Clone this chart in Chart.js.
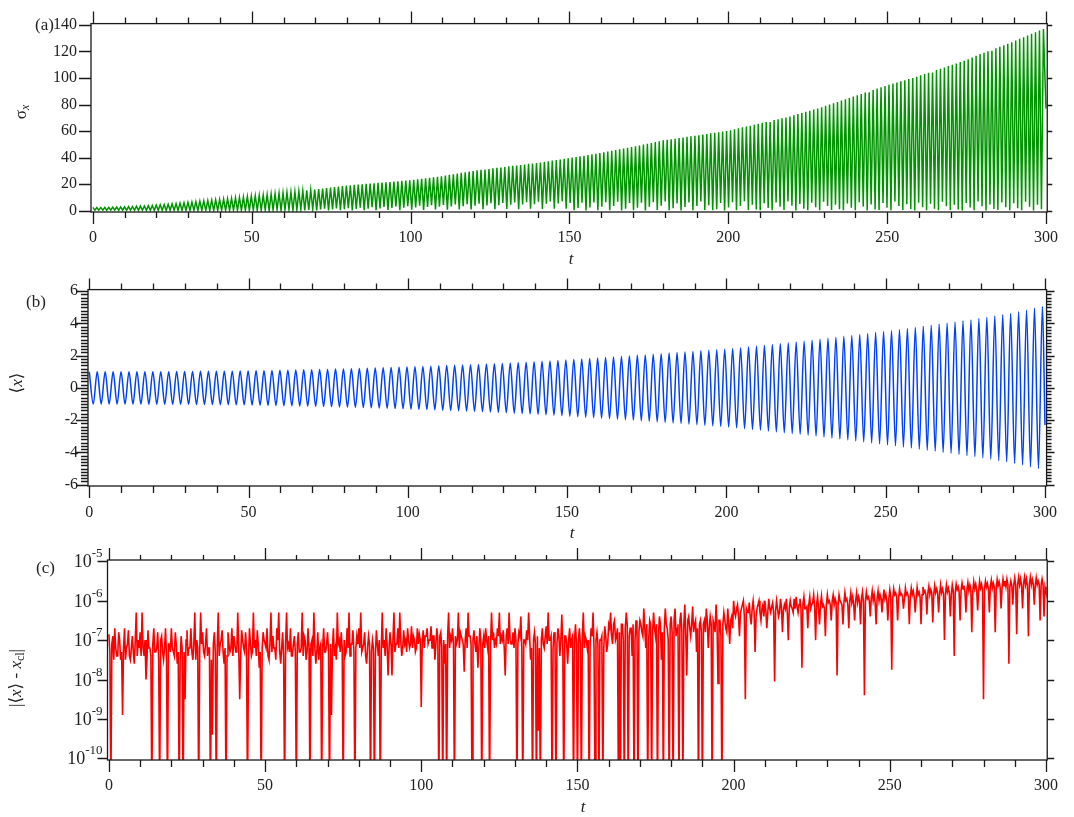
<!DOCTYPE html>
<html lang="en">
<head>
<meta charset="UTF-8" />
<title>σx, ⟨x⟩ and |⟨x⟩ - xcl| versus t</title>
<script src="https://cdn.jsdelivr.net/npm/chart.js"></script>
<style>
  html, body { margin: 0; padding: 0; background: #fff; }
  body { width: 1074px; height: 817px; position: relative; overflow: hidden;
         font-family: "Liberation Serif", "DejaVu Serif", serif; color: #222; }
  canvas { position: absolute; left: 0; }
  .lbl { position: absolute; font-size: 17px; line-height: 1; white-space: nowrap; transform: translateY(-50%); }
  .panel { background: #fff; }
  .rot { transform: translate(-50%, -50%) rotate(-90deg); }
  .xt { transform: translate(-50%, -50%); font-style: italic; }
  sub { font-size: 12px; vertical-align: -3px; }
</style>
</head>
<body>

<canvas id="chartA" width="1074" height="270" style="top:0"></canvas>
<canvas id="chartB" width="1074" height="275" style="top:270px"></canvas>
<canvas id="chartC" width="1074" height="272" style="top:545px"></canvas>

<!-- panel letters and axis titles -->
<div class="lbl panel" style="left:35px; top:24px">(a)</div>
<div class="lbl panel" style="left:26px; top:301px">(b)</div>
<div class="lbl panel" style="left:36px; top:567px">(c)</div>

<div class="lbl rot" style="left:21px; top:112px">σ<sub><i>x</i></sub></div>
<div class="lbl rot" style="left:16px; top:383px">⟨<i>x</i>⟩</div>
<div class="lbl rot" style="left:16px; top:678px">|⟨<i>x</i>⟩ - <i>x</i><sub>cl</sub>|</div>

<div class="lbl xt" style="left:571px; top:258px">t</div>
<div class="lbl xt" style="left:572px; top:532px">t</div>
<div class="lbl xt" style="left:583px; top:806px">t</div>

<script>
// ---- data ----
const tTicks = [0, 50, 100, 150, 200, 250, 300];
const tEnd = 300;
const tLastPeak = 299.2;   // last maximum of <x> and sigma_x

// (a) sigma_x: maxima (one per half period of <x>) and the minima between them
const sigmaPeaks = [
  2.5,2.4,2.5,2.6,2.6,2.7,2.8,2.9, 3.0,3.1,3.2,3.4,3.5,3.6,3.8,3.9,
  4.3,4.5,4.7,4.9,5.2,5.4,5.7,6.0, 6.3,6.6,6.9,7.2,7.4,7.7,8.0,8.2,
  8.5,8.8,9.1,9.4,9.7,10.0,10.3,10.7, 11.0,11.3,11.6,11.9,12.2,12.6,12.9,13.2,
  13.5,13.8,14.1,14.4,14.7,15.0,15.4,15.7, 16.0,16.4,16.7,17.1,17.5,17.9,18.3,18.6,
  19.0,19.2,19.5,19.7,20.0,20.2,20.5,20.7, 21.0,21.2,21.5,21.7,22.0,22.2,22.5,22.7,
  23.0,23.4,23.7,24.1,24.5,24.9,25.2,25.6, 26.0,26.5,27.0,27.5,28.0,28.5,29.0,29.5,
  30.0,30.4,30.8,31.1,31.5,31.9,32.3,32.6, 33.0,33.4,33.8,34.1,34.5,34.9,35.3,35.6,
  36.0,36.4,36.9,37.3,37.8,38.2,38.6,39.1, 39.5,40.0,40.5,41.0,41.5,42.0,42.5,43.0,
  43.5,44.0,44.6,45.2,45.8,46.3,46.9,47.4, 48.0,48.6,49.2,49.9,50.5,51.1,51.8,52.4,
  53.0,53.4,53.9,54.3,54.8,55.2,55.7,56.1, 56.5,56.9,57.4,57.8,58.3,58.7,59.1,59.6,
  60.0,60.7,61.4,62.1,62.8,63.4,64.1,64.8, 65.5,66.2,66.9,66.8,68.3,68.9,69.6,70.3,
  71.0,71.9,72.8,73.6,74.5,75.4,76.3,77.1, 78,79,80,81,82,83,84,85,
  86,87,88,89,89.2,91,92,93, 94,95,95.8,96.6,97.5,98.4,99.2,100,
  101,102,103,104,104.2,106,107,108, 109,110,111,112,113,114.2,115.5,116.8,
  118,119.1,120.2,120.5,122.5,123.6,124.7,125.8, 127,128.2,129.5,130.8,132,133.3,134.5,135.8,
  137
];
const sigmaTroughs = [
  0.4,0.4,0.4,0.3,0.4,0.4,0.3,0.4, 0.3,0.4,0.3,0.3,0.4,0.3,0.3,0.3,
  0.3,0.3,0.2,0.3,0.3,0.2,0.3,0.2, 0.2,0.3,0.2,0.2,0.3,0.2,0.2,0.2,
  0.3,0.2,0.2,0.4,0.2,0.2,0.3,0.2, 0.5,0.2,0.3,0.6,0.2,0.4,0.8,0.2,
  0.6,0.9,0.2,0.5,1.1,0.3,0.7,1.3, 0.2,0.9,1.5,0.3,1.0,1.8,0.4,1.2,
  2.0,0.3,1.4,2.3,0.5,1.6,2.6,0.4, 1.8,2.9,0.6,2.1,3.2,0.5,2.3,3.5,
  0.7,2.5,3.8,0.6,2.8,4.1,0.9,3.0, 4.4,0.8,3.2,4.7,1.0,3.5,5.0,0.9,
  3.7,5.3,1.2,4.0,5.6,1.1,4.2,5.9, 1.3,4.5,6.2,1.2,4.8,6.5,1.5,5.0,
  6.8,1.4,5.3,7.0,1.6,5.5,7.2,1.5, 5.8,0.3,2.0,6.0,0.2,2.5,6.3,0.3,
  3.0,6.5,0.4,3.5,6.8,0.2,1.5,5.8, 0.3,2.2,6.0,0.2,3.0,6.4,0.5,3.8,
  7.0,0.4,1.8,5.5,0.2,2.8,6.2,0.3, 3.5,7.0,0.6,4.2,0.3,1.2,5.8,0.2,
  2.5,6.5,0.3,3.6,7.2,0.5,4.5,1.0, 0.4,5.6,2.0,0.3,6.3,3.0,0.6,7.0,
  3.8,0.2,5.0,1.5,0.4,6.0,2.6,0.3, 6.8,3.5,0.5,4.6,1.2,0.3,5.5,2.2,
  0.4,6.4,3.2,0.2,4.8,1.0,0.6,5.9, 2.3,0.3,7.0,3.6,0.5,4.9,1.4,0.2,
  6.1,2.7,0.4,5.2,1.6,0.3,6.7,3.3, 0.5,4.5,0.9,0.2,5.8,2.4,0.3,6.9,
  3.4,0.2,4.8,1.3,0.5,6.2,2.6,0.3, 5.6,1.8,0.4,6.8,3.0,0.2,4.6,1.2
];
const sigmaEnd = 77;        // value at t = 300
const sigmaTicks = [0, 20, 40, 60, 80, 100, 120, 140];

// (b) <x>: maxima and minima of the oscillation
const meanPeaks = [
  1.00,1.00,1.00,1.00, 1.00,1.00,1.00,1.01, 1.01,1.01,1.01,1.02, 1.02,1.02,1.03,1.03,
  1.03,1.04,1.04,1.05, 1.05,1.06,1.07,1.08, 1.09,1.10,1.11,1.12, 1.13,1.14,1.15,1.17,
  1.18,1.19,1.21,1.22, 1.24,1.25,1.27,1.28, 1.30,1.32,1.33,1.35, 1.37,1.39,1.40,1.42,
  1.44,1.46,1.48,1.50, 1.52,1.55,1.58,1.60, 1.62,1.65,1.67,1.70, 1.74,1.77,1.80,1.83,
  1.86,1.89,1.92,1.95, 1.98,2.02,2.05,2.09, 2.12,2.16,2.19,2.23, 2.26,2.30,2.34,2.37,
  2.40,2.45,2.50,2.55, 2.60,2.65,2.70,2.75, 2.80,2.85,2.90,2.96, 3.02,3.08,3.14,3.20,
  3.26,3.32,3.38,3.44, 3.50,3.56,3.62,3.69, 3.76,3.83,3.89,3.95, 4.02,4.08,4.15,4.22,
  4.30,4.38,4.46,4.54, 4.62,4.72,4.83,4.95, 5.05
];
const meanTroughs = [
  -1.00,-1.00,-1.00,-1.00, -1.00,-1.00,-1.00,-1.01, -1.01,-1.01,-1.02,-1.02, -1.02,-1.03,-1.03,-1.03,
  -1.04,-1.04,-1.05,-1.05, -1.06,-1.07,-1.08,-1.09, -1.10,-1.11,-1.12,-1.13, -1.14,-1.15,-1.16,-1.18,
  -1.19,-1.20,-1.22,-1.23, -1.25,-1.26,-1.28,-1.29, -1.31,-1.33,-1.34,-1.36, -1.38,-1.40,-1.41,-1.43,
  -1.45,-1.47,-1.49,-1.51, -1.54,-1.57,-1.59,-1.61, -1.64,-1.66,-1.69,-1.72, -1.76,-1.79,-1.82,-1.85,
  -1.88,-1.91,-1.94,-1.97, -2.00,-2.04,-2.07,-2.11, -2.14,-2.18,-2.21,-2.25, -2.28,-2.32,-2.36,-2.39,
  -2.43,-2.48,-2.53,-2.58, -2.63,-2.68,-2.73,-2.78, -2.83,-2.88,-2.93,-2.99, -3.05,-3.11,-3.17,-3.23,
  -3.29,-3.35,-3.41,-3.47, -3.53,-3.59,-3.66,-3.73, -3.80,-3.86,-3.92,-3.99, -4.05,-4.12,-4.19,-4.26,
  -4.34,-4.42,-4.50,-4.58, -4.67,-4.77,-4.89,-5.00
];
const meanEnd = -2.3;
const meanTicks = [-6, -4, -2, 0, 2, 4, 6];

// (c) log10 |<x> - x_cl| at t = 0, 0.625, ... (-11 = below the axis floor)
const errLog = [
  -6.85,-11,-6.9,-6.7,-7.4,-6.8,-7.5,-8.9,-6.7,-7.2,-6.75,-7.5,-6.9,-7.6,-6.3,-7.0,
  -6.8,-6.3,-7.4,-8.0,-6.75,-7.2,-11,-6.7,-7.3,-6.8,-11,-6.9,-7.5,-6.7,-11,-7.1,
  -6.7,-7.3,-6.8,-7.6,-11,-6.9,-11,-8.5,-6.75,-7.2,-6.7,-7.5,-6.3,-7.0,-11,-6.3,
  -6.8,-7.4,-6.7,-7.2,-11,-9.4,-6.8,-11,-6.3,-7.1,-6.75,-7.6,-11,-6.8,-7.3,-6.7,
  -6.9,-7.3,-6.3,-8.5,-6.75,-7.2,-6.8,-11,-6.7,-7.4,-6.3,-7.0,-6.75,-7.7,-11,-6.8,
  -7.1,-6.7,-7.5,-6.3,-6.9,-7.2,-6.7,-6.3,-7.6,-6.8,-11,-6.3,-7.1,-6.7,-7.4,-6.9,
  -11,-6.8,-7.3,-6.3,-6.9,-7.5,-6.7,-11,-7.0,-6.3,-7.6,-6.8,-7.2,-11,-6.7,-7.3,
  -6.8,-11,-8.9,-6.7,-7.2,-6.3,-7.0,-6.8,-11,-7.4,-6.7,-6.3,-7.1,-6.75,-11,-6.9,
  -6.7,-6.3,-7.2,-6.8,-7.6,-6.9,-11,-7.0,-11,-6.75,-7.4,-11,-6.3,-7.0,-6.7,-7.9,
  -6.8,-7.9,-6.3,-7.1,-6.7,-6.3,-7.4,-6.75,-7.0,-6.7,-7.2,-6.65,-6.9,-7.3,-6.7,-6.85,
  -8.7,-6.75,-6.9,-6.7,-7.0,-6.65,-6.9,-7.5,-6.7,-11,-6.8,-11,-7.6,-11,-6.3,-6.9,
  -6.7,-11,-7.1,-6.3,-6.8,-7.0,-7.8,-6.7,-6.3,-6.9,-11,-6.75,-7.3,-7.7,-6.7,-11,
  -6.9,-6.7,-7.2,-11,-6.3,-6.8,-7.0,-6.7,-6.3,-6.9,-6.75,-7.9,-6.7,-6.3,-7.1,-6.8,
  -6.7,-11,-6.8,-6.4,-11,-7.0,-6.75,-6.3,-7.5,-11,-6.8,-11,-9.3,-11,-6.7,-7.2,
  -6.65,-6.3,-7.0,-11,-6.8,-11,-6.7,-7.4,-6.35,-11,-6.9,-7.6,-6.7,-7.0,-11,-6.6,
  -11,-6.7,-11,-6.3,-6.9,-7.2,-11,-6.7,-6.3,-11,-6.8,-11,-7.0,-11,-6.65,-7.3,
  -6.6,-6.3,-7.1,-6.5,-6.9,-11,-11,-6.6,-11,-6.3,-11,-6.7,-7.4,-11,-6.5,-11,
  -6.5,-6.8,-6.2,-7.2,-11,-6.5,-11,-6.3,-6.9,-11,-6.4,-7.5,-11,-6.2,-6.7,-11,
  -6.4,-11,-6.2,-6.7,-11,-6.3,-11,-6.1,-7.9,-6.4,-6.9,-6.15,-6.6,-7.3,-11,-6.5,
  -11,-6.5,-6.2,-7.2,-6.4,-11,-6.6,-6.1,-8.1,-6.5,-11,-6.3,-6.7,-6.2,-7.1,-6.4,
  -6.0,-6.4,-6.1,-6.9,-6.2,-6.0,-8.5,-6.3,-6.05,-6.6,-6.0,-7.3,-6.2,-6.0,-6.5,-6.1,
  -6.0,-6.7,-5.95,-6.3,-6.05,-8.05,-6.0,-6.4,-5.95,-6.8,-6.1,-5.95,-7.0,-6.0,-6.2,-5.95,
  -5.9,-6.3,-5.95,-7.7,-5.9,-6.2,-6.7,-5.9,-6.1,-5.85,-7.0,-5.9,-6.6,-5.88,-6.1,-6.9,
  -5.85,-6.0,-6.5,-5.85,-5.95,-7.9,-5.85,-6.0,-6.6,-5.8,-5.95,-6.7,-5.8,-5.9,-6.5,-5.8,
  -5.9,-6.6,-5.78,-8.4,-5.78,-5.9,-6.4,-5.75,-5.85,-6.6,-5.75,-5.85,-6.3,-5.72,-5.85,-6.5,
  -5.72,-7.75,-5.7,-5.8,-6.5,-5.7,-5.82,-6.2,-5.68,-5.8,-6.6,-5.68,-5.75,-6.3,-5.66,-5.78,
  -6.6,-5.65,-5.75,-6.35,-5.63,-5.72,-6.55,-5.62,-5.7,-6.3,-5.6,-5.7,-7.0,-5.6,-5.68,-6.4,
  -5.6,-7.4,-5.58,-5.65,-6.5,-5.55,-5.62,-6.3,-5.54,-5.6,-6.8,-5.52,-5.58,-6.25,-5.5,-5.58,
  -8.5,-5.5,-5.56,-6.3,-5.48,-5.55,-6.8,-5.46,-5.52,-6.2,-5.45,-5.5,-5.45,-7.6,-5.5,-6.1,
  -5.42,-6.85,-5.4,-5.45,-6.2,-5.4,-5.45,-6.9,-5.4,-5.46,-6.1,-5.42,-5.5,-6.5,-5.45,-6.4,
  -5.77
];
// (c) the samples half way between those above
const errLogMid = [
  -7.3,-7.1,-7.5,-7.2,-7.4,-7.0,-7.3,-7.2,-7.5,-7.1,-7.4,-7.2,-7.3,-7.0,-7.4,-7.2,
  -7.4,-7.2,-7.0,-7.5,-7.2,-7.4,-7.1,-7.3,-7.2,-7.5,-7.0,-7.3,-7.2,-7.4,-7.1,-7.3,
  -7.2,-7.4,-7.1,-7.3,-7.5,-7.2,-7.3,-7.0,-7.4,-7.2,-7.3,-7.1,-7.5,-7.2,-7.3,-7.1,
  -7.3,-7.1,-7.4,-7.2,-7.5,-7.1,-7.3,-7.2,-7.4,-7.0,-7.3,-7.2,-7.4,-7.1,-7.2,-7.4,
  -7.1,-7.3,-7.2,-7.4,-7.0,-7.3,-7.2,-7.5,-7.1,-7.3,-7.2,-7.4,-7.1,-7.3,-7.2,-7.0,
  -7.2,-7.4,-7.1,-7.3,-7.2,-7.5,-7.0,-7.3,-7.2,-7.4,-7.1,-7.2,-7.3,-7.4,-7.1,-7.3,
  -7.1,-7.3,-7.2,-7.4,-7.0,-7.3,-7.2,-7.1,-7.4,-7.2,-7.3,-7.5,-7.1,-7.2,-7.3,-7.1,
  -7.3,-7.1,-7.2,-7.4,-7.5,-7.1,-7.3,-7.2,-7.0,-7.3,-7.2,-7.4,-7.1,-7.3,-7.2,-7.1,
  -7.2,-7.3,-7.1,-7.4,-7.2,-7.1,-7.3,-7.2,-7.4,-7.1,-7.0,-7.3,-7.2,-7.4,-7.1,-7.2,
  -7.1,-7.0,-7.3,-7.1,-7.2,-7.0,-7.2,-7.1,-7.3,-7.0,-7.1,-7.2,-7.0,-7.2,-7.1,-7.0,
  -7.0,-7.2,-6.9,-7.1,-7.0,-7.2,-6.9,-7.1,-7.0,-6.9,-7.2,-7.0,-7.1,-6.9,-7.2,-7.0,
  -7.1,-6.9,-7.0,-7.2,-6.9,-7.1,-7.0,-7.2,-6.9,-7.1,-7.0,-7.1,-6.9,-7.2,-7.0,-7.1,
  -7.2,-7.0,-6.9,-7.1,-7.0,-7.2,-7.1,-6.9,-7.1,-7.0,-7.2,-6.9,-7.1,-7.0,-7.1,-7.2,
  -7.0,-7.1,-6.9,-7.2,-7.0,-7.1,-7.0,-6.9,-7.2,-7.0,-7.1,-6.9,-7.2,-7.0,-7.1,-6.9,
  -7.1,-7.0,-6.9,-7.2,-7.0,-7.1,-6.9,-7.0,-7.2,-6.9,-7.1,-7.0,-7.2,-6.9,-7.0,-7.1,
  -7.0,-7.1,-6.9,-7.2,-7.0,-7.0,-7.1,-6.9,-7.2,-7.0,-7.1,-7.0,-6.9,-7.2,-6.9,-7.1,
  -6.7,-6.9,-6.6,-7.0,-6.7,-6.8,-6.6,-7.0,-6.7,-6.6,-6.9,-6.7,-6.6,-7.0,-6.7,-6.8,
  -6.6,-6.9,-6.7,-6.6,-7.0,-6.6,-6.8,-6.7,-6.6,-6.9,-6.6,-6.8,-6.7,-6.6,-7.0,-6.6,
  -6.8,-6.5,-6.9,-6.6,-6.5,-6.8,-6.6,-6.9,-6.5,-6.7,-6.6,-6.8,-6.5,-6.7,-6.6,-6.8,
  -6.6,-6.8,-6.5,-6.7,-6.6,-6.5,-6.8,-6.6,-6.5,-6.9,-6.6,-6.5,-6.8,-6.6,-6.5,-6.7,
  -6.3,-6.2,-6.4,-6.3,-6.1,-6.4,-6.2,-6.3,-6.4,-6.2,-6.3,-6.4,-6.1,-6.3,-6.2,-6.4,
  -6.25,-6.3,-6.2,-6.15,-6.3,-6.25,-6.2,-6.3,-6.15,-6.25,-6.2,-6.3,-6.2,-6.15,-6.3,-6.2,
  -6.15,-6.1,-6.2,-6.1,-6.2,-6.15,-6.1,-6.2,-6.05,-6.15,-6.1,-6.2,-6.1,-6.15,-6.2,-6.1,
  -6.05,-6.1,-6.0,-6.1,-6.05,-6.1,-6.0,-6.1,-6.05,-6.0,-6.1,-6.0,-6.05,-6.1,-6.0,-6.05,
  -6.0,-5.95,-6.05,-6.0,-5.95,-6.0,-5.95,-6.0,-6.05,-5.95,-6.0,-5.95,-6.0,-5.95,-6.0,-5.95,
  -5.9,-5.95,-5.85,-5.9,-5.95,-5.85,-5.9,-5.95,-5.85,-5.9,-5.9,-5.85,-5.9,-5.95,-5.85,-5.9,
  -5.85,-5.8,-5.85,-5.8,-5.85,-5.8,-5.85,-5.8,-5.8,-5.85,-5.8,-5.82,-5.85,-5.78,-5.8,-5.85,
  -5.75,-5.8,-5.72,-5.78,-5.75,-5.7,-5.78,-5.72,-5.75,-5.7,-5.78,-5.7,-5.72,-5.75,-5.68,-5.72,
  -5.7,-5.65,-5.7,-5.65,-5.68,-5.65,-5.7,-5.62,-5.65,-5.68,-5.62,-5.65,-5.6,-5.65,-5.62,-5.6,
  -5.62,-5.58,-5.6,-5.62,-5.58,-5.6,-5.62,-5.58,-5.6,-5.58,-5.62,-5.6,-5.58,-5.62,-5.6,-5.65
];
const errTickExp = [-10, -9, -8, -7, -6, -5];

// ---- build point lists ----
function interleave(a, b) {
  const out = [];
  for (let i = 0; i < a.length; i++) {
    out.push(a[i]);
    if (i < b.length) out.push(b[i]);
  }
  return out;
}
function toPoints(vals, endVal) {
  const dt = tLastPeak / (vals.length - 1);
  const pts = vals.map((v, i) => ({ x: i * dt, y: v }));
  pts.push({ x: tEnd, y: endVal });
  return pts;
}
const sigmaPts = toPoints(interleave(sigmaPeaks, sigmaTroughs), sigmaEnd);
const meanPts = toPoints(interleave(meanPeaks, meanTroughs), meanEnd);
const errAll = interleave(errLog, errLogMid);
const errPts = errAll.map((e, i) => ({ x: i * tEnd / (errAll.length - 1), y: Math.pow(10, e) }));

// ---- Igor style frame with ticks on all four sides ----
const FONT = '"Liberation Serif", "DejaVu Serif", serif';
const igorFrame = {
  id: 'igorFrame',
  afterDraw(chart, args, o) {
    const { ctx, chartArea: a, scales: { x, y } } = chart;
    ctx.save();
    ctx.strokeStyle = '#1a1a1a';
    ctx.lineWidth = 1.3;
    ctx.strokeRect(a.left, a.top, a.right - a.left, a.bottom - a.top);
    ctx.beginPath();
    // x ticks, major every 50, minor every xStep
    for (let v = tTicks[0]; v <= tTicks[tTicks.length - 1] + 1e-9; v += o.xStep) {
      const px = Math.round(x.getPixelForValue(v)) + 0.5;
      const major = tTicks.includes(v);
      const lb = major ? o.bottom[0] : o.bottom[1];
      const lt = major ? o.top[0] : o.top[1];
      ctx.moveTo(px, a.bottom); ctx.lineTo(px, a.bottom + lb);
      ctx.moveTo(px, a.top); ctx.lineTo(px, a.top - lt);
    }
    // y ticks
    const yVals = o.log ? errTickExp.map(e => Math.pow(10, e)) : y.ticks.map(t => t.value);
    const yTick = (v, ll, lr) => {
      const py = Math.round(y.getPixelForValue(v)) + 0.5;
      if (ll) { ctx.moveTo(a.left, py); ctx.lineTo(a.left - ll, py); }
      if (lr) { ctx.moveTo(a.right, py); ctx.lineTo(a.right + lr, py); }
    };
    yVals.forEach(v => yTick(v, o.left[0], o.right[0]));
    if (o.yStep) {
      const lo = yVals[0], hi = yVals[yVals.length - 1];
      const n = Math.round((hi - lo) / o.yStep);
      const per = Math.round((yVals[1] - yVals[0]) / o.yStep);
      for (let k = 0; k <= n; k++) {
        if (k % per !== 0) yTick(lo + k * o.yStep, o.left[1], o.right[1]);
      }
    }
    ctx.stroke();

    // decade labels 10^n for the log panel
    if (o.log) {
      ctx.fillStyle = '#222';
      ctx.textBaseline = 'alphabetic';
      errTickExp.forEach(e => {
        const py = y.getPixelForValue(Math.pow(10, e));
        const sup = String(e);
        ctx.font = '13px ' + FONT;
        const ws = ctx.measureText(sup).width;
        ctx.font = '18px ' + FONT;
        const wb = ctx.measureText('10').width;
        const right = a.left - 5;
        ctx.fillText('10', right - ws - wb, py + 6);
        ctx.font = '13px ' + FONT;
        ctx.fillText(sup, right - ws, py - 4);
      });
    }
    ctx.restore();
  }
};

function makePanel(id, p) {
  return new Chart(document.getElementById(id), {
    type: 'line',
    data: {
      datasets: [{
        data: p.points,
        borderColor: p.color,
        borderWidth: p.lw,
        pointRadius: 0,
        fill: false,
        tension: p.smooth ? 0.4 : 0,
        cubicInterpolationMode: p.smooth ? 'monotone' : 'default'
      }]
    },
    options: {
      responsive: false,
      animation: false,
      devicePixelRatio: 1,
      parsing: false,
      normalized: true,
      events: [],
      layout: { padding: { left: 0, top: p.area.top, right: 1074 - p.area.right, bottom: 0 } },
      plugins: { legend: { display: false }, tooltip: { enabled: false }, igorFrame: p.frame },
      scales: {
        x: {
          type: 'linear', min: p.xRange[0], max: p.xRange[1],
          afterFit: s => { s.height = p.h - p.area.bottom; },
          afterBuildTicks: s => { s.ticks = tTicks.map(v => ({ value: v })); },
          grid: { display: false, drawTicks: false },
          border: { display: false },
          ticks: { padding: p.xPad, maxRotation: 0, autoSkip: false, color: '#222',
                   font: { family: FONT, size: p.font } }
        },
        y: {
          type: p.yType, min: p.yRange[0], max: p.yRange[1],
          afterFit: s => { s.width = p.area.left; },
          afterBuildTicks: s => { s.ticks = p.yTicks.map(v => ({ value: v })); },
          grid: { display: false, drawTicks: false },
          border: { display: false },
          ticks: { display: p.yLabels, padding: p.yPad, color: '#222', autoSkip: false,
                   font: { family: FONT, size: 16 }, callback: v => String(v) }
        }
      }
    },
    plugins: [igorFrame]
  });
}

makePanel('chartA', {
  points: sigmaPts, color: 'rgb(0,148,0)', lw: 1.5, smooth: false,
  h: 270, area: { left: 91, right: 1052, top: 14.5, bottom: 212 },
  xRange: [-0.6, 300.4], yType: 'linear', yRange: [-0.95, 141], yTicks: sigmaTicks,
  yLabels: true, yPad: 14, xPad: 16, font: 16,
  frame: { xStep: 10, bottom: [12, 6], top: [12, 6], yStep: 0, left: [12, 0], right: [5, 0] }
});

makePanel('chartB', {
  points: meanPts, color: 'rgb(0,64,255)', lw: 1.5, smooth: true,
  h: 275, area: { left: 88, right: 1057, top: 15.5, bottom: 216 },
  xRange: [-0.4, 300.5], yType: 'linear', yRange: [-6.085, 6.1], yTicks: meanTicks,
  yLabels: true, yPad: 10, xPad: 17, font: 16,
  frame: { xStep: 10, bottom: [12, 7], top: [11, 6], yStep: 0.2, left: [12, 7], right: [8, 5] }
});

makePanel('chartC', {
  points: errPts, color: 'rgb(255,0,0)', lw: 1.6, smooth: false,
  h: 272, area: { left: 107.5, right: 1058, top: 15, bottom: 215 },
  xRange: [-0.45, 300.4], yType: 'logarithmic', yRange: [Math.pow(10, -10.043), Math.pow(10, -4.967)],
  yTicks: errTickExp.map(e => Math.pow(10, e)),
  yLabels: false, yPad: 6, xPad: 16, font: 16,
  frame: { xStep: 10, bottom: [12, 7], top: [12, 5], yStep: 0, left: [10, 0], right: [7, 0], log: true }
});
</script>
</body>
</html>
